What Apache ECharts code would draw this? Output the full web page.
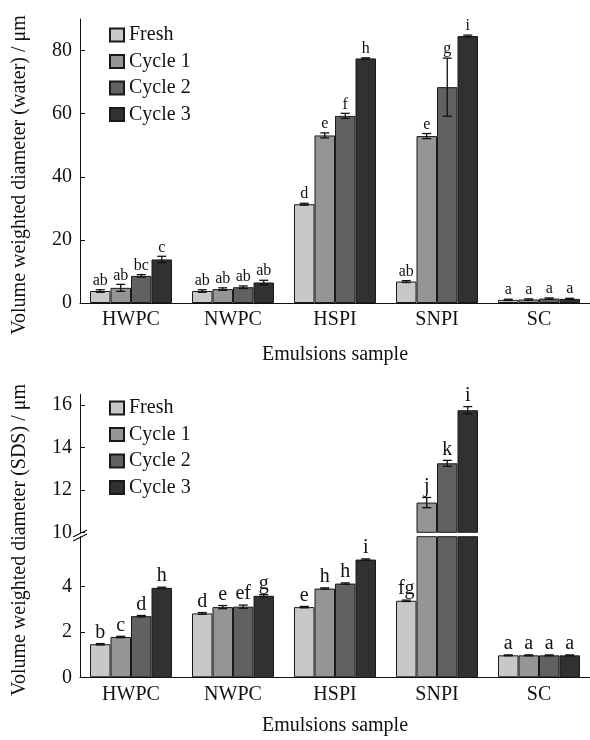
<!DOCTYPE html>
<html>
<head>
<meta charset="utf-8">
<script src="https://cdn.jsdelivr.net/npm/echarts@6.0.0/dist/echarts.min.js"></script>
<style>
  html, body { margin: 0; padding: 0; background: #fff; }
  #chart { width: 590px; height: 740px; }
</style>
</head>
<body>
<div id="chart"></div>
<script>
var FONT = "'Liberation Serif', 'Times New Roman', serif";
var BAR_W = 20.5;

var categories = ["HWPC", "NWPC", "HSPI", "SNPI", "SC"];
var seriesNames = ["Fresh", "Cycle 1", "Cycle 2", "Cycle 3"];
var colors = ["#c8c8ca", "#959598", "#616163", "#313133"];

// panel 1: water
var waterFresh = [3.8, 3.8, 31.3, 6.8, 1.0];
var waterCycle1 = [4.8, 4.4, 53.1, 52.9, 1.1];
var waterCycle2 = [8.6, 5.0, 59.3, 68.4, 1.4];
var waterCycle3 = [13.8, 6.5, 77.5, 84.6, 1.3];
var waterErrFresh = [0.4, 0.4, 0.3, 0.3, 0.2];
var waterErrCycle1 = [1.1, 0.4, 0.8, 0.8, 0.2];
var waterErrCycle2 = [0.4, 0.4, 0.8, 9.2, 0.2];
var waterErrCycle3 = [1.0, 0.7, 0.2, 0.3, 0.2];
var waterLetFresh = ["ab", "ab", "d", "ab", "a"];
var waterLetCycle1 = ["ab", "ab", "e", "e", "a"];
var waterLetCycle2 = ["bc", "ab", "f", "g", "a"];
var waterLetCycle3 = ["c", "ab", "h", "i", "a"];

// panel 2: SDS
var sdsFresh = [1.46, 2.82, 3.10, 3.38, 0.97];
var sdsCycle1 = [1.78, 3.10, 3.92, 11.4, 0.97];
var sdsCycle2 = [2.70, 3.12, 4.14, 13.25, 0.97];
var sdsCycle3 = [3.95, 3.60, 5.20, 15.75, 0.97];
var sdsErrFresh = [0.03, 0.04, 0.03, 0.03, 0.02];
var sdsErrCycle1 = [0.03, 0.07, 0.03, 0.24, 0.02];
var sdsErrCycle2 = [0.03, 0.07, 0.03, 0.14, 0.02];
var sdsErrCycle3 = [0.03, 0.05, 0.03, 0.17, 0.02];
var sdsLetFresh = ["b", "d", "e", "fg", "a"];
var sdsLetCycle1 = ["c", "e", "h", "j", "a"];
var sdsLetCycle2 = ["d", "ef", "h", "k", "a"];
var sdsLetCycle3 = ["h", "g", "i", "i", "a"];

var waterTicks = [0, 20, 40, 60, 80];
var sdsLowTicks = [0, 2, 4];
var sdsHighTicks = [10, 12, 14, 16];
var BREAK_LOW = 6.21, BREAK_HIGH = 10;

var waterVals = [waterFresh, waterCycle1, waterCycle2, waterCycle3];
var waterErrs = [waterErrFresh, waterErrCycle1, waterErrCycle2, waterErrCycle3];
var waterLets = [waterLetFresh, waterLetCycle1, waterLetCycle2, waterLetCycle3];
var sdsVals = [sdsFresh, sdsCycle1, sdsCycle2, sdsCycle3];
var sdsErrs = [sdsErrFresh, sdsErrCycle1, sdsErrCycle2, sdsErrCycle3];
var sdsLets = [sdsLetFresh, sdsLetCycle1, sdsLetCycle2, sdsLetCycle3];

var txt = { fontFamily: FONT, fontSize: 20, color: "#111" };

var barSeries = function (axis, vals, filter) {
  return vals.map(function (v, k) {
    return {
      type: "bar",
      name: seriesNames[k],
      xAxisIndex: axis,
      yAxisIndex: axis,
      data: v.map(function (x) { return filter(x) ? x : "-"; }),
      barWidth: BAR_W,
      barGap: "0%",
      itemStyle: { color: colors[k], borderColor: "#1a1a1a", borderWidth: 1 },
      emphasis: { disabled: true },
      silent: true
    };
  });
};

// error bars + significance letters, drawn on top of the bars
var errorSeries = function (axis, vals, errs, lets, filter, fontSize) {
  var items = [];
  vals.forEach(function (v, k) {
    v.forEach(function (x, c) {
      if (filter(x)) items.push({ cat: c, k: k, val: x, err: errs[k][c], letter: lets[k][c] });
    });
  });
  return {
    type: "custom",
    xAxisIndex: axis,
    yAxisIndex: axis,
    z: 5,
    silent: true,
    data: items.map(function (d) { return [d.cat, d.val]; }),
    encode: { x: 0, y: 1 },
    renderItem: function (params, api) {
      var d = items[params.dataIndex];
      var x = api.coord([d.cat, d.val])[0] + (d.k - 1.5) * BAR_W;
      var top = api.coord([d.cat, d.val + d.err])[1];
      var bot = api.coord([d.cat, d.val - d.err])[1];
      var cap = 4.5;
      var st = { stroke: "#111", lineWidth: 1.3 };
      return {
        type: "group",
        children: [
          { type: "line", shape: { x1: x, y1: top, x2: x, y2: bot }, style: st },
          { type: "line", shape: { x1: x - cap, y1: top, x2: x + cap, y2: top }, style: st },
          { type: "line", shape: { x1: x - cap, y1: bot, x2: x + cap, y2: bot }, style: st },
          {
            type: "text",
            style: {
              text: d.letter, x: x, y: top - 1, align: "center", verticalAlign: "bottom",
              fontFamily: FONT, fontSize: fontSize, fill: "#111"
            }
          }
        ]
      };
    }
  };
};

var all = function () { return true; };
var low = function (x) { return x < BREAK_HIGH; };
var high = function (x) { return x >= BREAK_HIGH; };

var yAxisBase = function (i, min, max, ticks) {
  return {
    type: "value",
    gridIndex: i,
    min: min,
    max: max,
    axisLine: { show: true, lineStyle: { color: "#111", width: 1 } },
    axisTick: { show: true, inside: true, length: 5, customValues: ticks, lineStyle: { color: "#111" } },
    axisLabel: { customValues: ticks, margin: 8, fontFamily: FONT, fontSize: 20, color: "#111" },
    splitLine: { show: false }
  };
};

var yAxes = [
  yAxisBase(0, 0, 90, waterTicks),
  yAxisBase(1, 0, BREAK_LOW, sdsLowTicks),
  yAxisBase(2, BREAK_HIGH, 16.5, sdsHighTicks)
];
yAxes[0].name = "Volume weighted diameter (water) / μm";
yAxes[0].nameLocation = "middle";
yAxes[0].nameGap = 50;
yAxes[0].nameTextStyle = Object.assign({}, txt, { padding: [0, 28, 0, 0] });
yAxes[1].name = "Volume weighted diameter (SDS) / μm";
yAxes[1].nameLocation = "middle";
yAxes[1].nameGap = 50;
yAxes[1].nameTextStyle = Object.assign({}, txt, { padding: [0, 0, 0, 134] });

var xAxisBase = function (i, show) {
  return {
    type: "category",
    gridIndex: i,
    data: categories,
    show: show,
    axisLine: { show: true, lineStyle: { color: "#111", width: 1 } },
    axisTick: { show: false },
    axisLabel: { margin: 7, fontFamily: FONT, fontSize: 20, color: "#111" },
    name: "Emulsions sample",
    nameLocation: "middle",
    nameGap: 42,
    nameTextStyle: txt
  };
};
var xAxes = [xAxisBase(0, true), xAxisBase(1, true), xAxisBase(2, false)];
xAxes[1].nameGap = 38;

var legendBase = function (top) {
  return {
    data: seriesNames,
    orient: "vertical",
    left: 104,
    top: top,
    icon: "rect",
    itemWidth: 14,
    itemHeight: 13,
    itemGap: 6.5,
    selectedMode: false,
    textStyle: { fontFamily: FONT, fontSize: 20, color: "#111" }
  };
};

var option = {
  animation: false,
  backgroundColor: "#fff",
  legend: [legendBase(20), legendBase(393)],
  grid: [
    { left: 80, top: 19, width: 512, height: 284 },
    { left: 80, top: 536.7, width: 512, height: 140.6 },
    { left: 80, top: 394.3, width: 512, height: 138 }
  ],
  xAxis: xAxes,
  yAxis: yAxes,
  // axis break marks
  graphic: [
    { type: "line", shape: { x1: 73, y1: 537, x2: 87, y2: 530 }, style: { stroke: "#111", lineWidth: 1.2 } },
    { type: "line", shape: { x1: 73, y1: 541, x2: 87, y2: 534 }, style: { stroke: "#111", lineWidth: 1.2 } }
  ],
  series: [].concat(
    barSeries(0, waterVals, all),
    barSeries(1, sdsVals, all),
    barSeries(2, sdsVals, high),
    [
      errorSeries(0, waterVals, waterErrs, waterLets, all, 16),
      errorSeries(1, sdsVals, sdsErrs, sdsLets, low, 20),
      errorSeries(2, sdsVals, sdsErrs, sdsLets, high, 20)
    ]
  )
};

var chart = echarts.init(document.getElementById("chart"), null, { renderer: "canvas" });
chart.setOption(option);
</script>
</body>
</html>
